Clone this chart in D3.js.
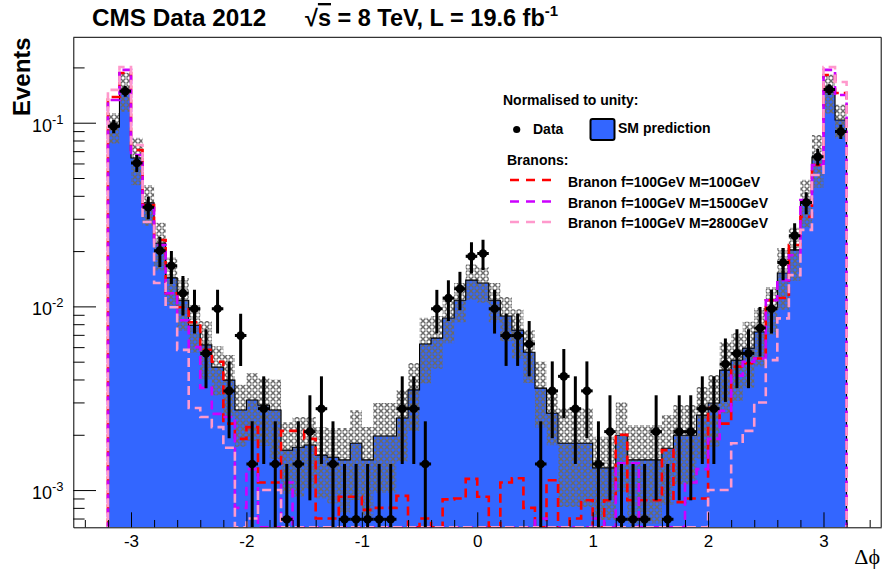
<!DOCTYPE html>
<html><head><meta charset="utf-8">
<script src="https://cdn.jsdelivr.net/npm/d3@7"></script>
<style>
html,body{margin:0;padding:0;background:#fff;}
svg{display:block;font-family:"Liberation Sans",Arial,Helvetica,sans-serif;}
</style>
</head><body>
<svg id="c" width="882" height="581"></svg>
<script>
// ---------------- data ----------------
const binLow = -3.2;
const binWidth = 0.1;
// observed data (event counts per bin), normalised to unity when drawn
const dataCounts = [138,214,87,50,29,24,17,14,8,14,
  5,10,2,4,2,1,2,3,4,2,
  1,1,1,1,1,4,4,2,14,16,
  18,27,28,14,10,10,9,2,5,6,
  4,5,2,3,1,1,1,3,1,3,
  3,4,4,7,8,8,11,14,25,35,
  53,94,219,129];
// SM prediction (normalised to unity)
const smValues = [0.0948,0.151,0.0643,0.0366,0.0221,0.0143,0.0108,0.0079,0.00617,0.00467,
  0.00397,0.00273,0.00309,0.0029,0.00273,0.00165,0.00171,0.00176,0.00155,0.00151,
  0.00146,0.0018,0.00146,0.00197,0.00197,0.00247,0.00351,0.00624,0.00672,0.00864,
  0.0108,0.0139,0.0134,0.0108,0.00886,0.00743,0.00563,0.00359,0.00262,0.0018,
  0.0018,0.0018,0.00132,0.00132,0.00199,0.00146,0.00146,0.00146,0.00169,0.00199,
  0.00199,0.00256,0.00298,0.0045,0.0051,0.00593,0.00725,0.0099,0.0152,0.0203,
  0.0379,0.065,0.147,0.1035];
// relative uncertainty of the SM prediction (hatched band)
const smRelErr = [0.19,0.24,0.29,0.25,0.29,0.29,0.32,0.29,0.35,0.30,
  0.37,0.37,0.40,0.40,0.46,0.42,0.46,0.42,0.42,0.44,
  0.49,0.51,0.51,0.51,0.51,0.42,0.40,0.39,0.32,0.27,
  0.24,0.22,0.22,0.24,0.27,0.30,0.32,0.39,0.33,0.55,
  0.55,0.55,0.48,0.48,0.51,0.55,0.55,0.55,0.51,0.46,
  0.46,0.42,0.42,0.42,0.40,0.39,0.35,0.29,0.37,0.32,
  0.29,0.32,0.24,0.21];
// Branon f=100GeV M=100GeV
const branonM100 = [0.138,0.1865,0.071,0.0356,0.023,0.0118,0.0099,0.0082,0.0058,0.005,
  0.0023,0.0019,0.0022,0.0011,0.0011,0.0021,0.0021,0.0019,0.0007,0.0007,
  0.00092,0.00092,0.00078,0.0008,0.0008,0.00093,0.0004,0.0007,0.0004,0.00089,
  0.0009,0.00115,0.00092,0.0004,0.0011,0.00116,0.0008,0.0004,0.00113,0.0004,
  0.0007,0.00088,0.0004,0.00088,0.002,0.00088,0.00088,0.00088,0.00165,0.00086,
  0.0009,0.0009,0.0028,0.0023,0.0047,0.0049,0.0052,0.0108,0.0111,0.0216,
  0.0307,0.0588,0.182,0.145];
// Branon f=100GeV M=1500GeV
const branonM1500 = [0.133,0.194,0.0667,0.0343,0.0216,0.0118,0.0084,0.006,0.0036,0.0026,
  0.0025,0.0008,0.0013,0.0004,0.0004,0.0011,0.0004,0.0004,0.0004,0.0004,
  0.0004,0.0004,0.0004,0.0004,0.0004,0.0004,0.0004,0.0004,0.0004,0.0004,
  0.0004,0.0004,0.0004,0.0004,0.0004,0.0004,0.0004,0.0007,0.0004,0.0004,
  0.0004,0.0004,0.0007,0.0004,0.0014,0.0014,0.0004,0.0004,0.0004,0.0004,
  0.0011,0.0013,0.0019,0.0027,0.0042,0.005,0.0052,0.0108,0.0139,0.019,
  0.0379,0.0588,0.194,0.1415];
// Branon f=100GeV M=2800GeV
const branonM2800 = [0.151,0.201,0.0756,0.0288,0.0134,0.0099,0.0058,0.0028,0.0025,0.0022,
  0.0017,0.0004,0.0007,0.001,0.001,0.0004,0.0004,0.0004,0.0004,0.0004,
  0.0004,0.0004,0.0004,0.0004,0.0004,0.0004,0.0004,0.0004,0.0004,0.0004,
  0.0004,0.0004,0.0004,0.0004,0.0004,0.0004,0.0004,0.0004,0.0004,0.0004,
  0.0004,0.0004,0.0004,0.0004,0.0004,0.0004,0.0004,0.0004,0.0004,0.0004,
  0.0004,0.0004,0.001,0.001,0.0018,0.0021,0.003,0.0051,0.0086,0.0148,
  0.0261,0.0519,0.201,0.1665];
const xTickValues = [-3,-2,-1,0,1,2,3];
const yTickValues = [0.001,0.01,0.1];
const yTickExponents = ["-3","-2","-1"];
const branonLabels = ["Branon f=100GeV M=100GeV","Branon f=100GeV M=1500GeV","Branon f=100GeV M=2800GeV"];
const branonColors = ["#ff0000","#cc00ff","#ff99cc"];

// ---------------- layout ----------------
const svg = d3.select("#c");
const plot = {left:73.3, right:881.2, top:37.3, bottom:527.3};
const x = d3.scaleLinear().domain([-3.5,3.5]).range([plot.left,plot.right]);
const y = d3.scaleLog().domain([Math.pow(10,-3.2027),Math.pow(10,-0.535)]).range([plot.bottom,plot.top]).clamp(true);

const defs = svg.append("defs");
defs.append("clipPath").attr("id","clip").append("rect")
  .attr("x",plot.left).attr("y",plot.top).attr("width",plot.right-plot.left).attr("height",plot.bottom-plot.top);
const pat = defs.append("pattern").attr("id","hatch").attr("width",6).attr("height",6)
  .attr("patternUnits","userSpaceOnUse");
pat.append("path").attr("d","M0.5,0.5L5.5,5.5M5.5,0.5L0.5,5.5").attr("stroke","#6a6a6a").attr("stroke-width",1.5).attr("fill","none");
pat.append("rect").attr("x",2).attr("y",2).attr("width",2).attr("height",2).attr("fill","#6a6a6a");

const totalData = d3.sum(dataCounts);
const bins = dataCounts.map((n,i)=>({
  x0: binLow + i*binWidth, x1: binLow + (i+1)*binWidth,
  data: n/totalData, dataErr: Math.sqrt(n)/totalData,
  sm: smValues[i], smErr: smValues[i]*smRelErr[i]
}));
const xEnd = binLow + bins.length*binWidth;
function stepPts(vals){
  const pts = vals.map((v,i)=>({x: binLow+i*binWidth, v}));
  pts.push({x: xEnd, v: vals[vals.length-1]});
  return pts;
}
const g = svg.append("g").attr("clip-path","url(#clip)");

// SM filled histogram
const smPts = stepPts(smValues);
g.append("path").datum(smPts)
  .attr("d", d3.area().curve(d3.curveStepAfter).x(d=>x(d.x)).y0(plot.bottom).y1(d=>y(d.v)))
  .attr("fill","#3366ff");

// hatched uncertainty band
const bandPts = bins.map(b=>({x:b.x0, lo:b.sm-b.smErr, hi:b.sm+b.smErr}));
bandPts.push({x:xEnd, lo:bandPts[bandPts.length-1].lo, hi:bandPts[bandPts.length-1].hi});
g.append("path").datum(bandPts)
  .attr("d", d3.area().curve(d3.curveStepAfter).x(d=>x(d.x)).y0(d=>y(d.lo)).y1(d=>y(d.hi)))
  .attr("fill","url(#hatch)");

// step outline helper
const yMinVal = y.domain()[0]*0.5;
function outline(vals){
  const pts = [{x:binLow, v:yMinVal}].concat(stepPts(vals)).concat([{x:xEnd, v:yMinVal}]);
  return d3.line().curve(d3.curveStepAfter).x(d=>x(d.x)).y(d=>y(d.v))(pts);
}
g.append("path").attr("d", outline(smValues)).attr("fill","none").attr("stroke","#000").attr("stroke-width",1.1);

// Branon curves
[branonM100, branonM1500, branonM2800].forEach((vals,i)=>{
  g.append("path").attr("d", outline(vals)).attr("fill","none")
    .attr("stroke",branonColors[i]).attr("stroke-width",2.6)
    .attr("stroke-dasharray","9,5").attr("stroke-dashoffset", i*4);
});

// data points
const dg = g.append("g");
bins.forEach(b=>{
  const cx = x((b.x0+b.x1)/2), cy = y(b.data);
  dg.append("line").attr("x1",cx).attr("x2",cx)
    .attr("y1",y(Math.max(b.data-b.dataErr,1e-7))).attr("y2",y(b.data+b.dataErr))
    .attr("stroke","#000").attr("stroke-width",3);
  dg.append("line").attr("x1",x(b.x0)).attr("x2",x(b.x1)).attr("y1",cy).attr("y2",cy)
    .attr("stroke","#000").attr("stroke-width",3);
  dg.append("circle").attr("cx",cx).attr("cy",cy).attr("r",4.3).attr("fill","#000");
});

// ---------------- axes ----------------
const axG = svg.append("g").attr("stroke-width",1);
const yMinor = [];
[0.0001,0.001,0.01,0.1].forEach(d=>{for(let k=2;k<=9;k++){const v=d*k; if(v>=y.domain()[0]&&v<=y.domain()[1]) yMinor.push(v);}});
axG.append("g").attr("transform",`translate(${plot.left},0)`)
  .call(d3.axisLeft(y).tickValues(yTickValues).tickSizeInner(-22.7).tickSizeOuter(0).tickFormat(""));
const yb = axG.append("g").attr("transform",`translate(${plot.left},0)`)
  .call(d3.axisLeft(y).tickValues(yMinor).tickSizeInner(-11.3).tickSizeOuter(0).tickFormat(""));
yb.select(".domain").remove();
yTickValues.forEach((v,i)=>{
  const t = svg.append("text").attr("x",63.5).attr("y",y(v)+9).attr("text-anchor","end")
    .attr("font-size",18).attr("fill","#000");
  t.append("tspan").text("10");
  t.append("tspan").attr("dy",-8).attr("font-size",13).text(yTickExponents[i]);
});
const xMinor = d3.range(-17,18).map(k=>k*0.2).filter(v=>Math.abs(v-Math.round(v))>1e-6);
const xa = axG.append("g").attr("transform",`translate(0,${plot.bottom})`)
  .call(d3.axisBottom(x).tickValues(xTickValues).tickSizeInner(-15).tickSizeOuter(0).tickPadding(7.6).tickFormat(d=>String(d)));
xa.selectAll("text").attr("font-size",17).attr("font-family","Liberation Sans, Arial, sans-serif");
const xb = axG.append("g").attr("transform",`translate(0,${plot.bottom})`)
  .call(d3.axisBottom(x).tickValues(xMinor).tickSizeInner(-7.3).tickSizeOuter(0).tickFormat(""));
xb.select(".domain").remove();
svg.selectAll(".domain,.tick line").attr("stroke","#000");
svg.append("line").attr("x1",plot.left).attr("x2",plot.right).attr("y1",plot.top).attr("y2",plot.top).attr("stroke","#000");
svg.append("line").attr("x1",plot.right).attr("x2",plot.right).attr("y1",plot.top).attr("y2",plot.bottom).attr("stroke","#000");

// axis titles
svg.append("text").attr("x",880).attr("y",564).attr("text-anchor","end").attr("font-family","Liberation Serif, DejaVu Serif, serif")
  .attr("font-size",22).text("Δϕ");
svg.append("text").attr("transform",`translate(30,${plot.top}) rotate(-90)`).attr("text-anchor","end")
  .attr("font-size",24).attr("font-weight","bold").text("Events");

// header
svg.append("text").attr("x",92).attr("y",26).attr("font-size",24.3).attr("font-weight","bold").text("CMS Data 2012");
const hdr = svg.append("text").attr("x",305).attr("y",26).attr("font-size",23.5).attr("font-weight","bold");
hdr.append("tspan").text("√");
hdr.append("tspan").attr("text-decoration","overline").text("s");
hdr.append("tspan").text(" = 8 TeV, L = 19.6 fb");
hdr.append("tspan").attr("dy",-10).attr("font-size",15).text("-1");

// legend
const lg = svg.append("g").attr("font-weight","bold").attr("font-size",14);
lg.append("text").attr("x",503).attr("y",105).text("Normalised to unity:");
lg.append("circle").attr("cx",516.7).attr("cy",129.5).attr("r",3.6).attr("fill","#000");
lg.append("text").attr("x",533).attr("y",134).text("Data");
lg.append("rect").attr("x",590.5).attr("y",119).attr("width",24).attr("height",21).attr("rx",2)
  .attr("fill","#3366ff").attr("stroke","#000").attr("stroke-width",2);
lg.append("text").attr("x",618).attr("y",133).text("SM prediction");
lg.append("text").attr("x",507).attr("y",165).text("Branons:");
const legY = [180,201.5,222];
const legTY = [186.5,207.5,228];
branonLabels.forEach((s,i)=>{
  lg.append("line").attr("x1",510).attr("x2",552).attr("y1",legY[i]).attr("y2",legY[i])
    .attr("stroke",branonColors[i]).attr("stroke-width",2.6).attr("stroke-dasharray","9,7");
  lg.append("text").attr("x",568).attr("y",legTY[i]).text(s);
});
</script>
</body></html>
